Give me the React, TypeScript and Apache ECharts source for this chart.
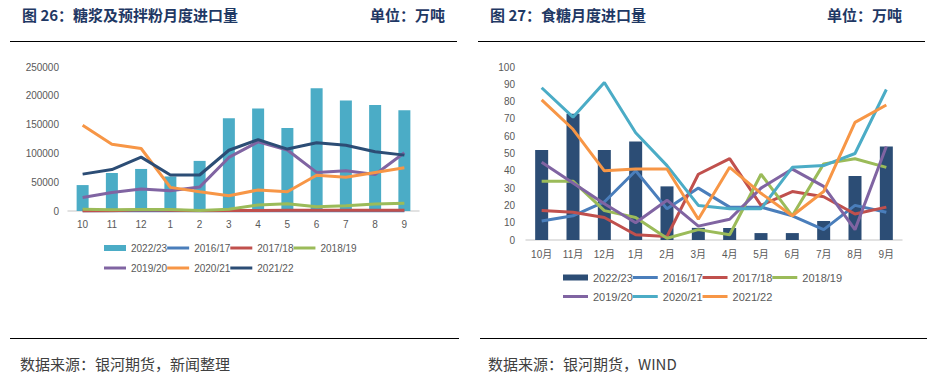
import React, { useEffect, useRef } from "react";
import * as echarts from "echarts";

// ---------- Left chart: 糖浆及预拌粉月度进口量 ----------
const leftMonths = ["10", "11", "12", "1", "2", "3", "4", "5", "6", "7", "8", "9"];
const leftYTicks = [0, 50000, 100000, 150000, 200000, 250000];
const left2223 = [45000, 66000, 73000, 60000, 87000, 161000, 178000, 144000, 213000, 192000, 184000, 175000];
const left1617 = [0, 0, 0, 0, 0, 0, 0, 0, 0, 0, 0, 0];
const left1718 = [0, 500, 2000, 1500, 500, 1000, 1000, 1500, 1500, 1500, 1500, 1500];
const left1819 = [3000, 2000, 2500, 2500, 1000, 3000, 10500, 12500, 7500, 9000, 12000, 13500];
const left1920 = [23500, 32000, 38000, 35000, 41500, 93000, 120000, 106000, 67000, 70000, 63500, 101000];
const left2021 = [149000, 116000, 108500, 41000, 33500, 26500, 36500, 33500, 62000, 58500, 67000, 75000];
const left2122 = [64000, 72000, 93500, 62500, 62500, 105500, 124000, 107500, 118500, 114000, 103000, 97000];

// ---------- Right chart: 食糖月度进口量 ----------
const rightMonths = ["10月", "11月", "12月", "1月", "2月", "3月", "4月", "5月", "6月", "7月", "8月", "9月"];
const rightYTicks = [0, 10, 20, 30, 40, 50, 60, 70, 80, 90, 100];
const right2223 = [52, 73, 52, 57, 31, 7, 7, 4, 4, 11, 37, 54];
const right1617 = [11, 14, 22, 40, 18, 30, 19, 19, 14, 6, 20, 16];
const right1718 = [17, 16, 13, 3, 2, 38, 47, 20, 28, 25, 15, 19];
const right1819 = [34, 34, 17, 13, 1, 6, 3, 38, 14, 44, 47, 42];
const right1920 = [45, 33, 21, 10, 23, 8, 12, 30, 41, 31, 6, 54];
const right2021 = [88, 71, 91, 62, 43, 20, 18, 18, 42, 43, 50, 87];
const right2122 = [81, 64, 40, 41, 41, 12, 42, 27, 14, 28, 68, 78];

const seasons = ["2022/23", "2016/17", "2017/18", "2018/19", "2019/20", "2020/21", "2021/22"];

const NAVY = "#2c4d75";
const TEAL = "#4bacc6";
const BLUE = "#4a7ebb";
const RED = "#c0504d";
const GREEN = "#9bbb59";
const PURPLE = "#8064a2";
const ORANGE = "#f79646";

const TITLE_COLOR = "#1f3864";
const AXIS_TEXT = "#595959";
const SANS = "'Liberation Sans', 'Noto Sans CJK SC', sans-serif";
const CJK = "'Noto Sans CJK SC', sans-serif";

function linePath(w: number) {
  return `path://M0,0H${w}V3H0Z`;
}

function buildOption(cfg: {
  title: string;
  unitX: number;
  source: string;
  categories: string[];
  yTicks: number[];
  bar: number[];
  lines: number[][];
  colors: string[];
  grid: { left: number; right: number; top: number; bottom: number };
  barWidth: number;
  legendLeft: number;
  legendTops: [number, number];
  legendFont: number;
  iconW: number;
  labelMargin: number;
  xLabelMargin: number;
  titleX: number;
  topLine: [number, number];
  bottomLine: [number, number];
}) {
  const maxY = cfg.yTicks[cfg.yTicks.length - 1];
  const interval = cfg.yTicks[1] - cfg.yTicks[0];
  const legendCommon = {
    orient: "horizontal" as const,
    left: cfg.legendLeft,
    padding: 0,
    itemGap: 0,
    itemWidth: cfg.iconW,
    itemHeight: 6,
    itemStyle: { borderWidth: 0 },
    textStyle: { color: AXIS_TEXT, fontSize: cfg.legendFont, fontFamily: SANS },
    selectedMode: false,
  };
  const mkItem = (name: string, i: number) => ({
    name,
    icon: i === 0 ? "rect" : linePath(cfg.iconW),
  });
  const series: any[] = [
    {
      name: seasons[0],
      type: "bar",
      data: cfg.bar,
      barWidth: cfg.barWidth,
      itemStyle: { color: cfg.colors[0] },
    },
  ];
  cfg.lines.forEach((d, i) => {
    series.push({
      name: seasons[i + 1],
      type: "line",
      data: d,
      symbol: "none",
      lineStyle: { color: cfg.colors[i + 1], width: 3 },
      itemStyle: { color: cfg.colors[i + 1] },
    });
  });
  return {
    animation: false,
    backgroundColor: "#ffffff",
    grid: { ...cfg.grid, containLabel: false },
    xAxis: {
      type: "category",
      data: cfg.categories,
      axisTick: { show: false },
      axisLine: { lineStyle: { color: "#d9d9d9", width: 1.5 } },
      axisLabel: { color: AXIS_TEXT, fontSize: 10, fontFamily: SANS, margin: cfg.xLabelMargin },
    },
    yAxis: {
      type: "value",
      min: 0,
      max: maxY,
      interval,
      splitLine: { show: false },
      axisLine: { show: false },
      axisTick: { show: false },
      axisLabel: {
        color: AXIS_TEXT,
        fontSize: 10,
        fontFamily: SANS,
        margin: cfg.labelMargin,
        formatter: (v: number) => String(v),
      },
    },
    legend: [
      {
        ...legendCommon,
        top: cfg.legendTops[0],
        data: seasons.slice(0, 4).map((n, i) => mkItem(n, i)),
      },
      {
        ...legendCommon,
        top: cfg.legendTops[1],
        data: seasons.slice(4).map((n, i) => mkItem(n, i + 4)),
      },
    ],
    graphic: [
      {
        type: "text",
        x: cfg.titleX,
        y: 14,
        style: {
          text: cfg.title,
          fill: TITLE_COLOR,
          font: `bold 15px ${CJK}`,
          verticalAlign: "middle",
        },
      },
      {
        type: "text",
        x: cfg.unitX,
        y: 14,
        style: {
          text: "单位：万吨",
          fill: TITLE_COLOR,
          font: `bold 15px ${CJK}`,
          verticalAlign: "middle",
        },
      },
      {
        type: "line",
        shape: { x1: cfg.topLine[0], y1: 41.5, x2: cfg.topLine[1], y2: 41.5 },
        style: { stroke: "#000000", lineWidth: 1 },
      },
      {
        type: "line",
        shape: { x1: cfg.bottomLine[0], y1: 338.5, x2: cfg.bottomLine[1], y2: 338.5 },
        style: { stroke: "#000000", lineWidth: 1 },
      },
      {
        type: "text",
        x: cfg.titleX - 2,
        y: 363,
        style: {
          text: cfg.source,
          fill: "#404040",
          font: `15px ${CJK}`,
          verticalAlign: "middle",
        },
      },
    ],
    series,
  };
}

function ChartBox({ option, left, width }: { option: any; left: number; width: number }) {
  const ref = useRef<HTMLDivElement>(null);
  useEffect(() => {
    if (!ref.current) return;
    const chart = echarts.init(ref.current, undefined, { renderer: "svg" });
    chart.setOption(option);
    return () => chart.dispose();
  }, [option]);
  return (
    <div
      ref={ref}
      style={{ position: "absolute", left, top: 0, width, height: 384 }}
    />
  );
}

const leftOption = buildOption({
  title: "图 26：糖浆及预拌粉月度进口量",
  unitX: 370,
  source: "数据来源：银河期货，新闻整理",
  categories: leftMonths,
  yTicks: leftYTicks,
  bar: left2223,
  lines: [left1617, left1718, left1819, left1920, left2021, left2122],
  colors: [TEAL, BLUE, RED, GREEN, PURPLE, ORANGE, NAVY],
  grid: { left: 68, right: 51, top: 67, bottom: 173 },
  barWidth: 12,
  legendLeft: 104,
  legendTops: [243, 263],
  legendFont: 10,
  iconW: 22,
  labelMargin: 9,
  xLabelMargin: 8,
  titleX: 22,
  topLine: [10, 457],
  bottomLine: [10, 459],
});

const rightOption = buildOption({
  title: "图 27：食糖月度进口量",
  unitX: 357,
  source: "数据来源：银河期货，WIND",
  categories: rightMonths,
  yTicks: rightYTicks,
  bar: right2223,
  lines: [right1617, right1718, right1819, right1920, right2021, right2122],
  colors: [NAVY, BLUE, RED, GREEN, PURPLE, TEAL, ORANGE],
  grid: { left: 56, right: 25, top: 67, bottom: 144 },
  barWidth: 13,
  legendLeft: 93,
  legendTops: [272, 291],
  legendFont: 11,
  iconW: 25,
  labelMargin: 11,
  xLabelMargin: 9,
  titleX: 20,
  topLine: [8, 455],
  bottomLine: [10, 457],
});

export default function App() {
  return (
    <div
      style={{
        position: "absolute",
        left: 0,
        top: 0,
        width: 927,
        height: 384,
        background: "#ffffff",
        overflow: "hidden",
      }}
    >
      <ChartBox option={leftOption} left={0} width={470} />
      <ChartBox option={rightOption} left={470} width={457} />
    </div>
  );
}
